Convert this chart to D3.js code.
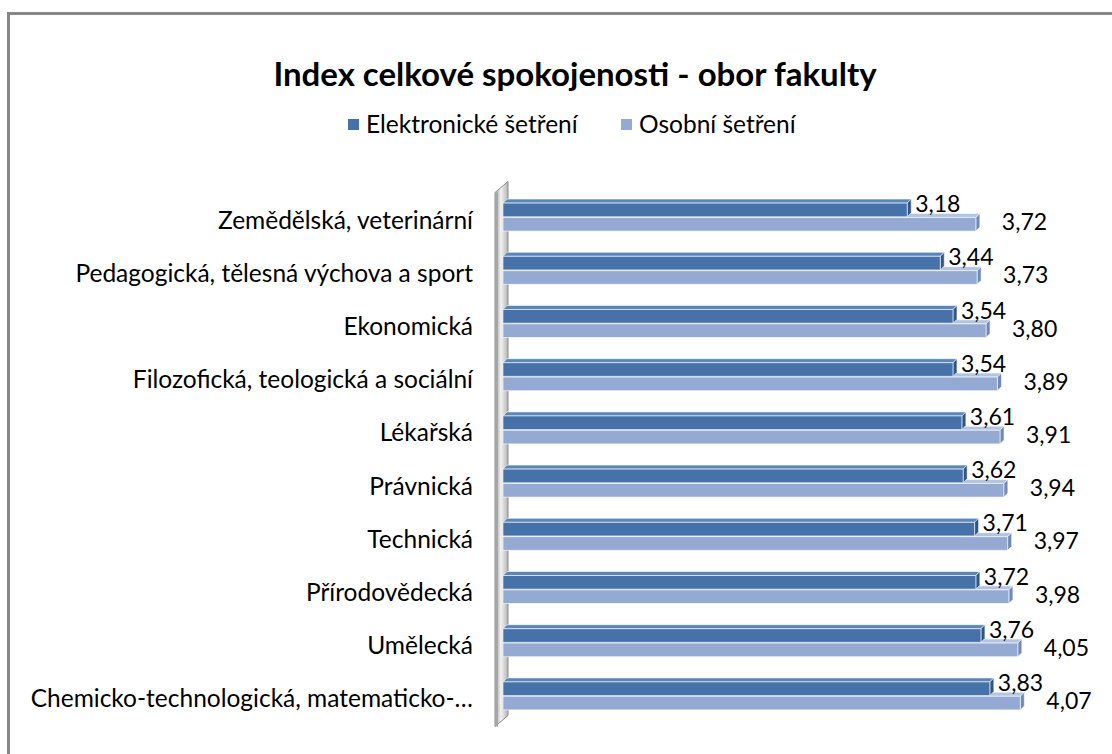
<!DOCTYPE html>
<html>
<head>
<meta charset="utf-8">
<script src="https://cdn.jsdelivr.net/npm/d3@7"></script>
<style>
  html, body { margin: 0; padding: 0; background: #fff; }
  svg { display: block; }
  text { font-family: Lato, "Open Sans", sans-serif; fill: #000; }
</style>
</head>
<body>
<div id="chart"></div>
<script>
const categories = [
  "Zemědělská, veterinární",
  "Pedagogická, tělesná výchova a sport",
  "Ekonomická",
  "Filozofická, teologická a sociální",
  "Lékařská",
  "Právnická",
  "Technická",
  "Přírodovědecká",
  "Umělecká",
  "Chemicko-technologická, matematicko-…"
];
const seriesNames = ["Elektronické šetření", "Osobní šetření"];
const elektronicke = [3.18, 3.44, 3.54, 3.54, 3.61, 3.62, 3.71, 3.72, 3.76, 3.83];
const osobni = [3.72, 3.73, 3.80, 3.89, 3.91, 3.94, 3.97, 3.98, 4.05, 4.07];
const chartTitle = "Index celkové spokojenosti - obor fakulty";

const W = 1112, H = 754;
const colors = {
  front: ["#4672a9", "#95aad3"],
  top: ["#5a86bb", "#b3c4e3"],
  side: ["#2f5686", "#7089b7"]
};
const depth = { dx: 4, dy: -4 };

const svg = d3.select("#chart").append("svg")
  .attr("width", W).attr("height", H);

// outer frame
svg.append("rect")
  .attr("x", 8.5).attr("y", 13.5)
  .attr("width", W + 20).attr("height", H + 20)
  .attr("fill", "none")
  .attr("stroke", "#878787")
  .attr("stroke-width", 3);

// title
svg.append("text")
  .attr("x", 575).attr("y", 86)
  .attr("text-anchor", "middle")
  .style("font-size", "33px")
  .style("font-weight", "bold")
  .text(chartTitle);

// legend
const legendG = svg.append("g").attr("class", "legendG");
const legendX = [348, 621];
seriesNames.forEach((name, i) => {
  legendG.append("rect")
    .attr("x", legendX[i]).attr("y", 119)
    .attr("width", 11).attr("height", 11)
    .attr("fill", colors.front[i]);
  legendG.append("text")
    .attr("x", legendX[i] + 18).attr("y", 124)
    .attr("dy", "0.35em")
    .style("font-size", "24.5px")
    .text(name);
});

// scales
const x = d3.scaleLinear().domain([0, 4.5]).range([503, 1075]);
const y = d3.scaleBand().domain(categories).range([190.5, 722.5]);
const inner = d3.scaleBand().domain([0, 1]).range([-14, 14]).paddingInner(0.05);

// wall on the left
const wallTop = y.range()[0] + 2, wallBot = y.range()[1] + 4;
const grad = svg.append("defs").append("linearGradient")
  .attr("id", "wallGrad").attr("x1", "0").attr("x2", "1").attr("y1", "0").attr("y2", "0");
grad.append("stop").attr("offset", "0%").attr("stop-color", "#9a9a9a");
grad.append("stop").attr("offset", "45%").attr("stop-color", "#f2f2f2");
grad.append("stop").attr("offset", "100%").attr("stop-color", "#b5b5b5");

const wallG = svg.append("g").attr("class", "wallG");
const wx = x(0) - 8;
wallG.append("path")
  .attr("d", `M${wx},${wallTop} L${wx + 13},${wallTop - 11} L${wx + 13},${wallBot - 11} L${wx},${wallBot} Z`)
  .attr("fill", "url(#wallGrad)")
  .attr("stroke", "#8c8c8c")
  .attr("stroke-width", 1);
wallG.append("rect")
  .attr("x", wx).attr("y", wallTop)
  .attr("width", 3).attr("height", wallBot - wallTop)
  .attr("fill", "#a6a6a6");

// category labels
svg.append("g").attr("class", "catG")
  .selectAll("text")
  .data(categories)
  .join("text")
  .attr("x", 473)
  .attr("y", d => y(d) + y.bandwidth() / 2 + 3)
  .attr("dy", "0.35em")
  .attr("text-anchor", "end")
  .style("font-size", "24.5px")
  .text(d => d);

// bars
const rows = categories.map((c, i) => ({ cat: c, vals: [elektronicke[i], osobni[i]] }));
const barsG = svg.append("g").attr("class", "barsG");

function bar3d(g, s, v, cy) {
  const x0 = x(0), x1 = x(v);
  const y0 = cy + inner(s), h = inner.bandwidth();
  const { dx, dy } = depth;
  g.append("path")
    .attr("d", `M${x0},${y0} L${x0 + dx},${y0 + dy} L${x1 + dx},${y0 + dy} L${x1},${y0} Z`)
    .attr("fill", colors.top[s])
    .attr("stroke", "#ffffff").attr("stroke-opacity", 0.7).attr("stroke-width", 0.8);
  g.append("path")
    .attr("d", `M${x1},${y0} L${x1 + dx},${y0 + dy} L${x1 + dx},${y0 + h + dy} L${x1},${y0 + h} Z`)
    .attr("fill", colors.side[s])
    .attr("stroke", "#ffffff").attr("stroke-opacity", 0.7).attr("stroke-width", 0.8);
  g.append("rect")
    .attr("x", x0).attr("y", y0)
    .attr("width", x1 - x0).attr("height", h)
    .attr("fill", colors.front[s])
    .attr("stroke", "#ffffff").attr("stroke-opacity", 0.6).attr("stroke-width", 1);
}

rows.forEach(r => {
  const cy = y(r.cat) + y.bandwidth() / 2;
  const g = barsG.append("g").attr("class", "itemG");
  // light bar first so the dark one sits above its top face
  bar3d(g, 1, r.vals[1], cy);
  bar3d(g, 0, r.vals[0], cy);
});

// value labels
const fmt = v => d3.format(".2f")(v).replace(".", ",");
const labelsG = svg.append("g").attr("class", "labelsG");
rows.forEach(r => {
  const cy = y(r.cat) + y.bandwidth() / 2;
  labelsG.append("text")
    .attr("x", x(r.vals[0]) + 8)
    .attr("y", cy - 13)
    .attr("dy", "0.35em")
    .style("font-size", "23px")
    .text(fmt(r.vals[0]));
  labelsG.append("text")
    .attr("x", x(r.vals[1]) + 26)
    .attr("y", cy + 5)
    .attr("dy", "0.35em")
    .style("font-size", "23px")
    .text(fmt(r.vals[1]));
});
</script>
</body>
</html>
